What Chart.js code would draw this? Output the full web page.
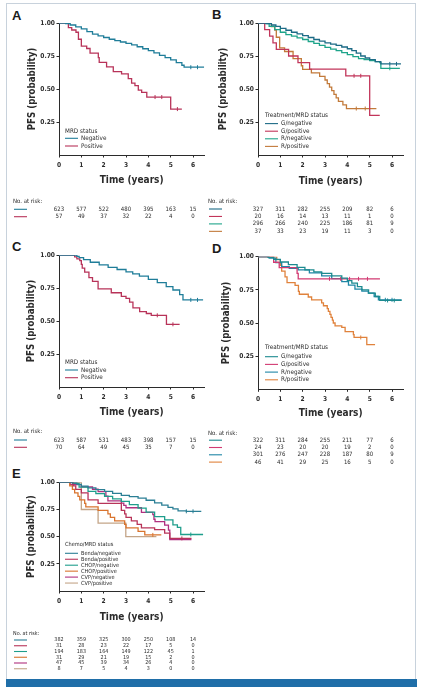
<!DOCTYPE html>
<html>
<head>
<meta charset="utf-8">
<script src="https://cdn.jsdelivr.net/npm/chart.js@4.4.1/dist/chart.umd.min.js"></script>
<style>
  body { margin: 0; background: #fff; width: 427px; height: 693px; position: relative; overflow: hidden; }
  #frame { position: absolute; left: 6px; top: 3px; width: 408px; height: 677px; border: 1.5px solid #c8d2dc; border-bottom: none; }
  #bar { position: absolute; left: 6px; top: 679px; width: 411px; height: 8px; background: #1f6ea8; }
  canvas { position: absolute; }
  .lbl { position: absolute; font: bold 13px "Liberation Sans", Arial, sans-serif; color: #1a1a1a; }
</style>
</head>
<body>
<div id="frame"></div>
<div id="bar"></div>
<div class="lbl" style="left:12px;top:8px">A</div>
<div class="lbl" style="left:212px;top:7px">B</div>
<div class="lbl" style="left:12px;top:239px">C</div>
<div class="lbl" style="left:212px;top:241px">D</div>
<div class="lbl" style="left:12px;top:466px">E</div>
<script>
// axis ticks
const years = [0, 1, 2, 3, 4, 5, 6];
const pfsTicks = [0.25, 0.5, 0.75, 1.0];

// points are [time, PFS] ; a third value 1 marks a censoring tick
// --- A : MRD status ---
const aNegative = [[0,1],[0.3,0.995],[0.5,0.985],[0.75,0.97],[1,0.955],[1.25,0.935],[1.5,0.915],[1.75,0.902],[2,0.89],[2.25,0.877],[2.5,0.866],[2.75,0.856],[3,0.846],[3.25,0.834],[3.5,0.82],[3.75,0.805],[4,0.79],[4.25,0.773],[4.5,0.755],[4.75,0.738],[5,0.72],[5.25,0.7],[5.5,0.68],[5.6,0.665],[5.9,0.665,1],[6.2,0.665,1],[6.5,0.665]];
const aPositive = [[0,1],[0.42,0.965],[0.57,0.947],[0.76,0.93],[0.87,0.877],[1,0.825],[1.24,0.807],[1.39,0.772],[1.76,0.737],[1.8,0.702],[2.13,0.667],[2.43,0.632],[2.8,0.614],[3.1,0.579],[3.25,0.544],[3.4,0.526],[3.55,0.491],[3.7,0.474],[3.93,0.439],[4.3,0.439,1],[4.6,0.439,1],[5,0.348],[5.3,0.348,1],[5.5,0.348]];
const aRisk = [[623,577,522,480,395,163,15],[57,49,37,32,22,4,0]];

// --- B : treatment/MRD ---
const bGNeg = [[0,1],[0.4,0.995],[0.6,0.985],[0.8,0.975],[1,0.96],[1.25,0.945],[1.5,0.93],[1.75,0.918],[2,0.905],[2.25,0.89],[2.5,0.875],[2.75,0.862],[3,0.85],[3.25,0.84],[3.5,0.83],[3.75,0.818],[4,0.805],[4.2,0.79],[4.4,0.772],[4.6,0.75],[4.8,0.735],[5,0.722],[5.25,0.708],[5.5,0.69],[5.9,0.69,1],[6.2,0.69,1],[6.4,0.69]];
const bGPos = [[0,1],[0.3,0.95],[0.52,0.9],[0.67,0.85],[0.82,0.8],[1.37,0.75],[1.79,0.7],[2.31,0.65],[3.93,0.6],[4.3,0.6,1],[4.6,0.6,1],[5,0.3],[5.45,0.3]];
const bRNeg = [[0,1],[0.3,0.995],[0.5,0.975],[0.75,0.95],[1,0.93],[1.25,0.912],[1.5,0.9],[1.75,0.887],[2,0.875],[2.25,0.86],[2.5,0.845],[2.75,0.83],[3,0.815],[3.25,0.802],[3.5,0.79],[3.75,0.775],[4,0.76],[4.25,0.745],[4.5,0.73],[4.75,0.722],[5,0.715],[5.25,0.708],[5.45,0.7],[5.5,0.657],[5.9,0.657,1],[6.35,0.657]];
const bRPos = [[0,1],[0.6,0.973],[0.75,0.946],[0.82,0.892],[0.97,0.811],[1.19,0.784],[1.57,0.73],[1.94,0.676],[2,0.649],[2.39,0.622],[2.76,0.595],[3,0.568],[3.1,0.541],[3.2,0.514],[3.3,0.487],[3.4,0.46],[3.5,0.433],[3.6,0.406],[3.8,0.379],[3.96,0.352],[4.4,0.352,1],[4.8,0.352,1],[5.3,0.352]];
const bRisk = [[327,311,282,255,209,82,6],[20,16,14,13,11,1,0],[296,266,240,225,186,81,9],[37,33,23,19,11,3,0]];

// --- C : MRD status ---
const cNegative = [[0,1],[0.7,1],[0.8,0.99],[0.9,0.98],[1.1,0.965],[1.4,0.945],[1.8,0.925],[2.2,0.907],[2.6,0.89],[3,0.872],[3.3,0.857],[3.6,0.84],[4,0.815],[4.4,0.79],[4.8,0.76],[5.1,0.735],[5.4,0.7],[5.55,0.66],[5.9,0.66,1],[6.2,0.66,1],[6.45,0.66]];
const cPositive = [[0,1],[0.7,0.986],[0.8,0.971],[0.93,0.957],[1,0.929],[1.04,0.9],[1.15,0.871],[1.34,0.829],[1.5,0.8],[1.75,0.743],[2.34,0.714],[2.79,0.686],[3,0.671],[3.16,0.643],[3.31,0.6],[3.61,0.571],[3.91,0.557],[4.13,0.543],[4.4,0.543,1],[4.81,0.475],[5.1,0.475,1],[5.4,0.475]];
const cRisk = [[623,587,531,483,398,157,15],[70,64,49,45,35,7,0]];

// --- D : treatment/MRD ---
const dGNeg = [[0,1],[0.45,0.995],[0.7,0.98],[1,0.96],[1.36,0.94],[1.75,0.92],[2.1,0.9],[2.5,0.885],[2.85,0.875],[3.3,0.855],[3.75,0.838],[4,0.82],[4.2,0.8],[4.45,0.775],[4.65,0.75],[4.95,0.725],[5.25,0.7],[5.45,0.67],[5.8,0.67,1],[6.1,0.67,1],[6.43,0.67]];
const dGPos = [[0,1],[0.7,0.958],[0.95,0.917],[1.75,0.875],[1.8,0.833],[3.2,0.833,1],[3.7,0.833,1],[4.1,0.833,1],[4.5,0.833,1],[4.9,0.833,1],[5.46,0.833]];
const dRNeg = [[0,1],[0.5,0.99],[0.8,0.955],[1.06,0.925],[1.4,0.912],[1.8,0.9],[2.3,0.878],[2.85,0.855],[3.3,0.835],[3.75,0.812],[4.05,0.785],[4.34,0.755],[4.65,0.74],[4.94,0.725],[5.2,0.7],[5.39,0.675],[5.7,0.675,1],[6.0,0.675,1],[6.43,0.675]];
const dRPos = [[0,1],[0.84,0.978],[1,0.935],[1.06,0.891],[1.21,0.848],[1.3,0.804],[1.66,0.783],[1.81,0.739],[1.85,0.717],[2.25,0.696],[2.4,0.674],[2.85,0.652],[2.93,0.63],[3.1,0.609],[3.15,0.587],[3.22,0.565],[3.27,0.543],[3.33,0.522],[3.37,0.5],[3.45,0.478],[3.75,0.467],[3.9,0.435],[4.27,0.413],[4.3,0.391],[4.6,0.391,1],[4.87,0.337],[5.24,0.337]];
const dRisk = [[322,311,284,255,211,77,6],[24,23,20,20,19,2,0],[301,276,247,228,187,80,9],[46,41,29,25,16,5,0]];

// --- E : chemo/MRD ---
const eBendaNeg = [[0,1],[0.6,0.995],[0.8,0.98],[1,0.965],[1.3,0.948],[1.65,0.932],[2.04,0.917],[2.4,0.898],[2.79,0.88],[3.15,0.868],[3.54,0.855],[3.9,0.835],[4.28,0.81],[4.6,0.79],[4.88,0.77],[5.1,0.755],[5.33,0.738],[5.7,0.733,1],[6.0,0.733,1],[6.37,0.733]];
const eBendaPos = [[0,1],[0.63,0.968],[0.75,0.935],[1,0.903],[1.3,0.839],[1.75,0.806],[2.79,0.742],[2.94,0.71],[3,0.677],[3.24,0.645],[3.5,0.613],[3.69,0.58],[4.28,0.565],[4.73,0.532],[4.96,0.484],[5.5,0.484,1],[5.93,0.484]];
const eChopNeg = [[0,1],[0.6,0.99],[0.9,0.955],[1.3,0.917],[1.65,0.895],[2.04,0.87],[2.4,0.848],[2.79,0.824],[3.15,0.795],[3.54,0.762],[3.9,0.725],[4.28,0.685],[4.73,0.654],[5.1,0.608],[5.3,0.585],[5.45,0.52],[5.9,0.52,1],[6.45,0.52]];
const eChopPos = [[0,1],[0.48,0.968],[0.6,0.935],[0.7,0.903],[0.85,0.871],[0.93,0.839],[1.15,0.806],[1.2,0.774],[1.75,0.742],[2.19,0.71],[2.3,0.677],[2.49,0.645],[2.94,0.613],[3,0.58],[3.54,0.548],[3.84,0.516],[4.2,0.516,1],[4.58,0.516]];
const eCvpNeg = [[0,1],[0.5,0.979],[1,0.957],[1.5,0.936],[1.75,0.915],[2.1,0.872],[2.19,0.83],[2.79,0.809],[2.9,0.787],[3,0.766],[3.69,0.723],[4.2,0.702],[4.25,0.66],[4.3,0.638],[4.73,0.606],[4.9,0.56],[4.96,0.474],[5.93,0.474]];
const eCvpPos = [[0,1],[1,0.75],[1.75,0.625],[2.99,0.5],[4.36,0.5]];
const eRisk = [[382,359,325,300,250,108,14],[31,28,23,22,17,5,0],[194,183,164,149,122,45,1],[31,29,21,19,15,2,0],[47,45,39,34,26,4,0],[8,7,5,4,3,0,0]];

const FF = '"Liberation Sans Narrow", "DejaVu Sans Condensed", "Arial Narrow", sans-serif';
const ink = '#2b2b2b';

// legend + number-at-risk table, placed with the x scale
const panelText = {
  id: 'panelText',
  afterDraw(chart, args, o) {
    const ctx = chart.ctx, xs = chart.scales.x, off = o.off;
    ctx.save();
    ctx.fillStyle = ink;
    ctx.textBaseline = 'middle';
    ctx.font = o.legendSize + 'px ' + FF;
    ctx.textAlign = 'left';
    ctx.fillText(o.legendTitle, o.legend.x - off.x, o.legend.y - off.y);
    chart.data.datasets.forEach((ds, i) => {
      const y = o.legend.y - off.y + o.legend.first + o.legend.step * i;
      const x = o.legend.x - off.x;
      ctx.strokeStyle = ds.borderColor;
      ctx.lineWidth = 1.1;
      ctx.beginPath(); ctx.moveTo(x, y); ctx.lineTo(x + 13, y); ctx.stroke();
      ctx.fillText(ds.label, x + 16, y);
    });
    const rx = o.risk.x - off.x, ry = o.risk.y - off.y;
    ctx.font = o.riskSize + 'px ' + FF;
    ctx.fillText('No. at risk:', rx, ry);
    ctx.textAlign = 'center';
    o.rows.forEach((row, i) => {
      const y = ry + o.risk.first + o.risk.step * i;
      ctx.strokeStyle = chart.data.datasets[i].borderColor;
      ctx.beginPath(); ctx.moveTo(rx + 1, y); ctx.lineTo(rx + 14, y); ctx.stroke();
      row.forEach((n, j) => ctx.fillText(String(n), xs.getPixelForValue(years[j]), y));
    });
    ctx.restore();
  }
};

function makePanel(p) {
  const cv = document.createElement('canvas');
  cv.width = p.box.w; cv.height = p.box.h;
  cv.style.left = p.box.left + 'px'; cv.style.top = p.box.top + 'px';
  document.body.appendChild(cv);
  const a = {
    left: p.area.left - p.box.left, right: p.area.right - p.box.left,
    top: p.area.top - p.box.top, bottom: p.area.bottom - p.box.top
  };
  const xt = 10, yt = 9.6;
  new Chart(cv, {
    type: 'line',
    data: {
      datasets: p.series.map(s => ({
        label: s.label,
        data: s.data.map(d => ({ x: d[0], y: d[1], c: d[2] || 0 })),
        borderColor: s.color,
        borderWidth: 1.3,
        stepped: true,
        fill: false,
        pointStyle: 'line',
        rotation: 90,
        pointBorderColor: s.color,
        pointBorderWidth: 1,
        pointRadius: ctx => (ctx.raw && ctx.raw.c ? 2 : 0)
      }))
    },
    options: {
      responsive: false,
      animation: false,
      layout: { padding: { left: 0, top: a.top, right: p.box.w - a.right, bottom: 0 } },
      plugins: {
        legend: { display: false },
        tooltip: { enabled: false },
        panelText: {
          off: { x: p.box.left, y: p.box.top },
          legendTitle: p.legendTitle, legend: p.legend, legendSize: p.legendSize,
          risk: p.risk, riskSize: p.riskSize, rows: p.rows
        }
      },
      scales: {
        x: {
          type: 'linear', min: 0, max: 6.5,
          afterBuildTicks: s => { s.ticks = years.map(v => ({ value: v })); },
          afterFit: s => { s.height = p.box.h - a.bottom; },
          border: { color: ink, width: 1 },
          grid: { drawOnChartArea: false, tickLength: 2.5, color: ink },
          ticks: { padding: 4, color: ink, font: { family: FF, size: 6.6, weight: 'bold' } },
          title: {
            display: true, text: 'Time (years)', color: ink,
            font: { family: FF, size: xt, weight: 'bold' },
            padding: { top: 0, bottom: p.box.h - (p.xTitleY - p.box.top) - xt * 0.6 }
          }
        },
        y: {
          type: 'linear', min: 0, max: 1,
          afterBuildTicks: s => { s.ticks = pfsTicks.map(v => ({ value: v })); },
          afterFit: s => { s.width = a.left; },
          border: { color: ink, width: 1 },
          grid: { drawOnChartArea: false, tickLength: 2.5, color: ink },
          ticks: { padding: 1.5, color: ink, font: { family: FF, size: 6.6, weight: 'bold' },
                   callback: v => v.toFixed(2) },
          title: {
            display: true, text: 'PFS (probability)', color: ink,
            font: { family: FF, size: yt, weight: 'bold' },
            padding: { top: (p.yTitleX - p.box.left) - yt * 0.6, bottom: 0 }
          }
        }
      }
    },
    plugins: [panelText]
  });
}

const cTeal = '#1f7d99', cCrimson = '#b83359';

makePanel({
  box: { left: 0, top: 0, w: 213, h: 228 },
  area: { left: 59, top: 23, right: 204.2, bottom: 155 },
  xTitleY: 180.5, yTitleX: 32,
  series: [{ label: 'Negative', color: cTeal, data: aNegative }, { label: 'Positive', color: cCrimson, data: aPositive }],
  legendTitle: 'MRD status', legendSize: 6.3, legend: { x: 65, y: 131, first: 7.3, step: 7.7 },
  risk: { x: 13, y: 201, first: 8.3, step: 7.4 }, riskSize: 6, rows: aRisk
});
makePanel({
  box: { left: 205, top: 0, w: 210, h: 236 },
  area: { left: 258, top: 23, right: 403.2, bottom: 155 },
  xTitleY: 181, yTitleX: 223,
  series: [
    { label: 'G/negative', color: '#1d6b86', data: bGNeg },
    { label: 'G/positive', color: '#c2355a', data: bGPos },
    { label: 'R/negative', color: '#1ea48a', data: bRNeg },
    { label: 'R/positive', color: '#c27a3a', data: bRPos }
  ],
  legendTitle: 'Treatment/MRD status', legendSize: 6.3, legend: { x: 265, y: 115.3, first: 8.3, step: 7.6 },
  risk: { x: 208, y: 201, first: 8, step: 7.45 }, riskSize: 6, rows: bRisk
});
makePanel({
  box: { left: 0, top: 228, w: 213, h: 225 },
  area: { left: 59, top: 255, right: 204.2, bottom: 387 },
  xTitleY: 412.7, yTitleX: 31,
  series: [{ label: 'Negative', color: cTeal, data: cNegative }, { label: 'Positive', color: cCrimson, data: cPositive }],
  legendTitle: 'MRD status', legendSize: 6.3, legend: { x: 65, y: 362.7, first: 7.3, step: 7.7 },
  risk: { x: 13, y: 431.7, first: 8.3, step: 7.3 }, riskSize: 6, rows: cRisk
});
makePanel({
  box: { left: 205, top: 236, w: 210, h: 234 },
  area: { left: 258, top: 256.7, right: 403.2, bottom: 389.3 },
  xTitleY: 413, yTitleX: 226,
  series: [
    { label: 'G/negative', color: '#1c8a8f', data: dGNeg },
    { label: 'G/positive', color: '#d23a72', data: dGPos },
    { label: 'R/negative', color: '#1f86a6', data: dRNeg },
    { label: 'R/positive', color: '#e0823c', data: dRPos }
  ],
  legendTitle: 'Treatment/MRD status', legendSize: 6.3, legend: { x: 265, y: 347.3, first: 9.4, step: 7.7 },
  risk: { x: 208, y: 433.3, first: 6.9, step: 7.3 }, riskSize: 6, rows: dRisk
});
makePanel({
  box: { left: 0, top: 455, w: 213, h: 222 },
  area: { left: 59, top: 482.3, right: 204.2, bottom: 591 },
  xTitleY: 617.7, yTitleX: 31,
  series: [
    { label: 'Benda/negative', color: '#2b7f95', data: eBendaNeg },
    { label: 'Benda/positive', color: '#b83459', data: eBendaPos },
    { label: 'CHOP/negative', color: '#1f9e8c', data: eChopNeg },
    { label: 'CHOP/positive', color: '#d9742e', data: eChopPos },
    { label: 'CVP/negative', color: '#b0307f', data: eCvpNeg },
    { label: 'CVP/positive', color: '#c4a588', data: eCvpPos }
  ],
  legendTitle: 'Chemo/MRD status', legendSize: 5.6, legend: { x: 65, y: 544.3, first: 9, step: 5.95 },
  risk: { x: 13, y: 634, first: 6, step: 5.75 }, riskSize: 5.4, rows: eRisk
});
</script>
</body>
</html>
